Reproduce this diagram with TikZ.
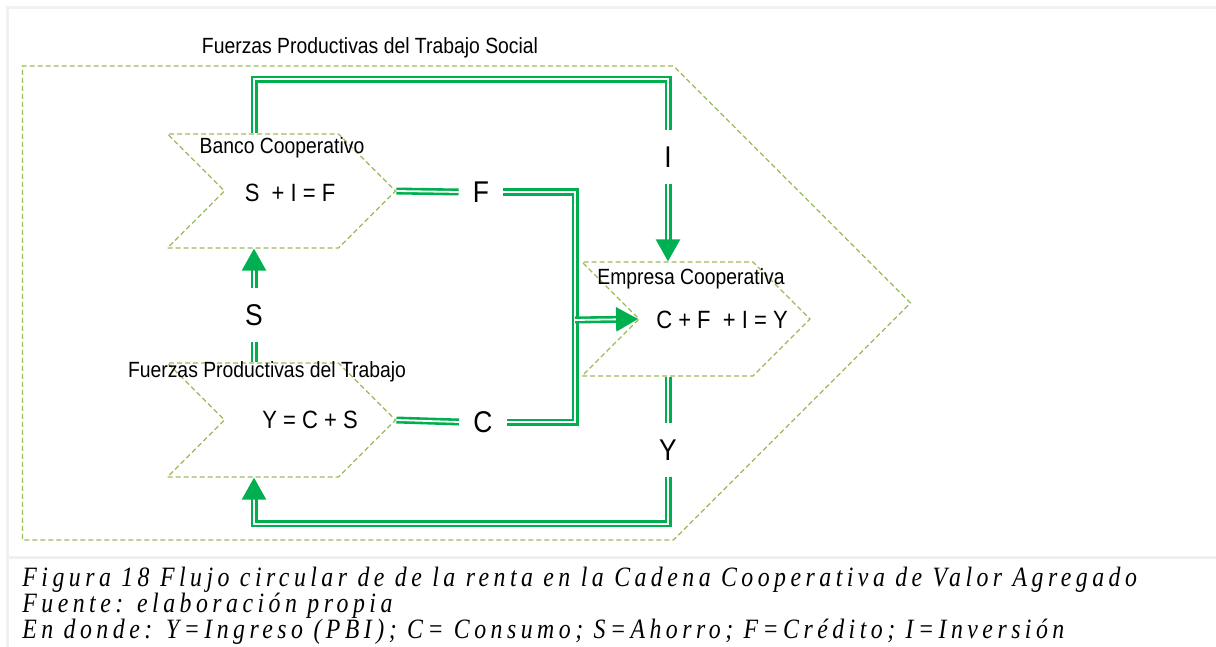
\documentclass[tikz,border=0pt]{standalone}
\usepackage{fontspec}
\usetikzlibrary{shapes.symbols,arrows.meta}
\definecolor{verdeflujo}{HTML}{00B050}
\definecolor{verdeborde}{HTML}{9BBB59}
\newfontfamily\diagfont[FakeStretch=0.88]{Liberation Sans}
\newfontfamily\piefont[FakeStretch=0.85,LetterSpace=16]{Liberation Serif}

\begin{document}
\begin{tikzpicture}[x=0.5pt,y=-0.5pt,
		bloque/.style={signal,signal from=west,signal to=east,signal pointer angle=90,draw=verdeborde,dash pattern=on 2.5pt off 1.5pt,line width=0.65pt,minimum width=114pt,minimum height=57pt,inner sep=0pt},
		flujo/.style={draw=verdeflujo,line width=1.3pt,double=white,double distance=0.9pt},
		punta/.style={-{Triangle[width=12pt,length=11pt]}},
		etiqueta/.style={font=\diagfont\fontsize{15}{18}\selectfont,inner xsep=7pt,inner ysep=8pt},
		titulo/.style={font=\diagfont\fontsize{11}{13}\selectfont,inner sep=0pt},
		ecuacion/.style={font=\diagfont\fontsize{12.5}{14}\selectfont,inner sep=0pt},
		pie/.style={anchor=west,font=\piefont\itshape\fontsize{14}{16}\selectfont,inner sep=0pt}]
		\useasboundingbox (0,0) rectangle (1216,647);
		\draw[gray!12,line width=1.5pt] (1216,8) -- (7,8) -- (7,647);
		\draw[gray!12,line width=1.5pt] (7,557) -- (1216,557);
		% bloques
		\node[bloque,signal from=nowhere,minimum width=444pt,minimum height=237pt] (social) at (348,303) {};
		\node[bloque] (banco) at (281.5,191) {};
		\node[bloque] (trabajo) at (281.5,420) {};
		\node[bloque] (empresa) at (696,319) {};
		\node[titulo] (tsocial) at (370,48) {Fuerzas Productivas del Trabajo Social};
		\node[titulo] (tbanco) at (282,148) {Banco Cooperativo};
		\node[ecuacion] (ebanco) at (290,193) {S \ + I = F};
		\node[titulo] (ttrabajo) at (267,372) {Fuerzas Productivas del Trabajo};
		\node[ecuacion] (etrabajo) at (310,420) {Y = C + S};
		\node[titulo] (tempresa) at (691,279) {Empresa Cooperativa};
		\node[ecuacion] (eempresa) at (722,320) {C + F \ + I = Y};
		% flujos
		\node[etiqueta] (lF) at (481,192) {F};
		\node[etiqueta] (lC) at (483,422) {C};
		\node[etiqueta] (lS) at (254,315) {S};
		\node[etiqueta] (lY) at (668,450) {Y};
		\node[etiqueta] (lI) at (668,157) {I};
		\coordinate (union) at (575,320);
		\draw[flujo] (lS |- banco.north) -- ([yshift=27pt]lS |- banco.north) -| (lI.north);
		\draw[flujo,punta] (lI.south) -- (lI |- empresa.north);
		\draw[flujo] (banco.east) -- (lF.west);
		\draw[flujo] (lF.east) -| (lC.east -| union) -- (lC.east);
		\draw[flujo] (trabajo.east) -- (lC.west);
		\draw[flujo,punta] (union) -- (empresa.west);
		\draw[flujo] (lS |- trabajo.north) -- (lS.south);
		\draw[flujo,punta] (lS.north) -- (lS |- banco.south);
		\draw[flujo] (lY |- empresa.south) -- (lY.north);
		\draw[flujo,punta] (lY.south) |- ([yshift=-23pt]lS |- trabajo.south) -- (lS |- trabajo.south);
		% pie
		\node[pie] (pie1) at (22,580) {Figura 18 Flujo circular de de la renta en la Cadena Cooperativa de Valor Agregado};
		\node[pie] (pie2) at (22,606) {Fuente: elaboración propia};
		\node[pie] (pie3) at (22,632) {En donde: Y=Ingreso (PBI); C= Consumo; S=Ahorro; F=Crédito; I=Inversión};
	\end{tikzpicture}
\end{document}
